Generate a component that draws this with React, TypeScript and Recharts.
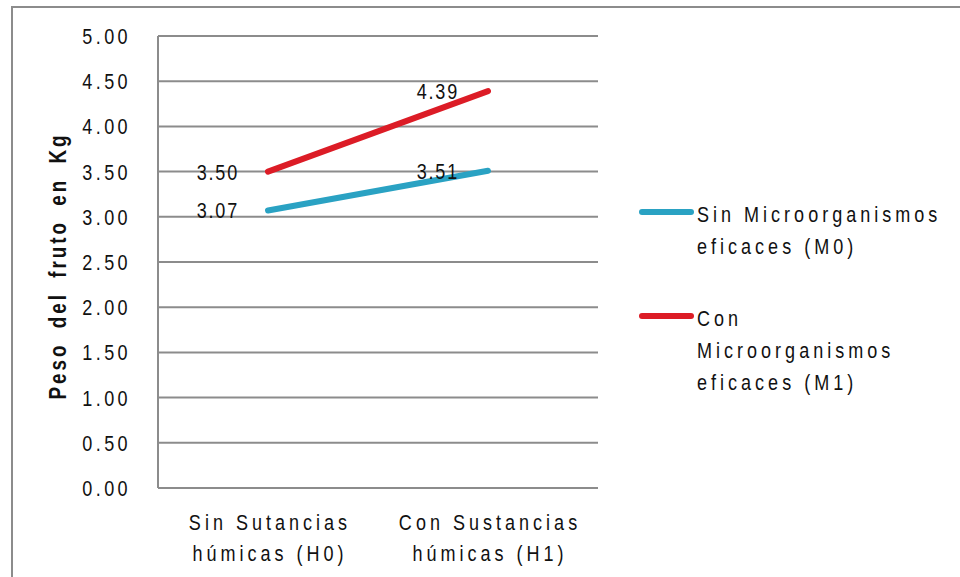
import { LineChart, Line, XAxis, YAxis, CartesianGrid, LabelList } from 'recharts';

const categories = ['H0', 'H1'];
const categoryLines = [
  ['Sin Sutancias', 'húmicas (H0)'],
  ['Con Sustancias', 'húmicas (H1)'],
];
const sinMicroorganismos = [3.07, 3.51];
const conMicroorganismos = [3.5, 4.39];
const yTicks = [0, 0.5, 1, 1.5, 2, 2.5, 3, 3.5, 4, 4.5, 5];

const seriesNames = [
  ['Sin Microorganismos', 'eficaces (M0)'],
  ['Con', 'Microorganismos', 'eficaces (M1)'],
];
const yTitle = 'Peso del fruto en Kg';

const FONT = "'Liberation Sans', Arial, sans-serif";
const GRID = '#8c8c8c';
const BLUE = '#2aa2c3';
const RED = '#dc1c26';
const NARROW = 0.82;

const data = categories.map((name, i) => ({
  name,
  m0: sinMicroorganismos[i],
  m1: conMicroorganismos[i],
}));

// Arial squeezed horizontally to get the narrow look of the labels
function NText(props: {
  x: number;
  y: number;
  anchor?: 'start' | 'middle' | 'end';
  size?: number;
  spacing?: number;
  words?: number;
  bold?: boolean;
  rotate?: number;
  children: string;
}) {
  const { x, y, anchor = 'start', size = 22, spacing = 3.5, words = 0, bold, rotate = 0, children } = props;
  return (
    <text
      transform={`translate(${x},${y}) rotate(${rotate}) scale(${NARROW},1)`}
      textAnchor={anchor}
      fontFamily={FONT}
      fontSize={size}
      fontWeight={bold ? 'bold' : 'normal'}
      letterSpacing={spacing / NARROW}
      style={{ wordSpacing: words / NARROW }}
      fill="#111"
    >
      {children}
    </text>
  );
}

function CategoryTick(props: { x?: number; y?: number; payload?: { index: number } }) {
  const { x = 0, y = 0, payload } = props;
  if (!payload) return null;
  const lines = categoryLines[payload.index] || [];
  return (
    <g>
      {lines.map((t, i) => (
        <NText key={t} x={x + 2} y={y + 34 + i * 31} anchor="middle" spacing={4}>
          {t}
        </NText>
      ))}
    </g>
  );
}

function ValueTick(props: { x?: number; y?: number; payload?: { value: number } }) {
  const { x = 0, y = 0, payload } = props;
  if (!payload) return null;
  return (
    <NText x={x} y={y + 8} anchor="end" spacing={3.4}>
      {payload.value.toFixed(2)}
    </NText>
  );
}

// value labels sit to the left of each point
function PointLabel(props: { x?: number; y?: number; value?: number }) {
  const { x = 0, y = 0, value } = props;
  if (value === undefined) return null;
  return (
    <NText x={x - 29} y={y + 8} anchor="end" spacing={1.8}>
      {Number(value).toFixed(2)}
    </NText>
  );
}

function SeriesLegend() {
  const colors = [BLUE, RED];
  const tops = [0, 104];
  return (
    <svg width={330} height={200} style={{ position: 'absolute', left: 630, top: 200, overflow: 'visible' }}>
      {seriesNames.map((lines, i) => (
        <g key={i}>
          <line
            x1={12}
            x2={61}
            y1={tops[i] + 12}
            y2={tops[i] + 12}
            stroke={colors[i]}
            strokeWidth={6}
            strokeLinecap="round"
          />
          {lines.map((t, j) => (
            <NText key={t} x={67} y={tops[i] + 22 + j * 32} spacing={4}>
              {t}
            </NText>
          ))}
        </g>
      ))}
    </svg>
  );
}

export default function App() {
  return (
    <div style={{ position: 'absolute', left: 0, top: 0, width: 960, height: 577, background: '#fff', overflow: 'hidden' }}>
      <div
        style={{
          position: 'absolute',
          left: 11,
          top: 6,
          width: 980,
          height: 600,
          borderLeft: `2px solid ${GRID}`,
          borderTop: `2px solid ${GRID}`,
        }}
      />
      <LineChart width={960} height={577} data={data} margin={{ top: 36, right: 362, bottom: 9, left: 0 }}>
        <CartesianGrid vertical={false} stroke={GRID} strokeWidth={2} />
        <XAxis
          dataKey="name"
          padding={{ left: 110, right: 110 }}
          axisLine={{ stroke: GRID, strokeWidth: 2 }}
          tickLine={false}
          tick={<CategoryTick />}
          height={80}
          interval={0}
        />
        <YAxis
          domain={[0, 5]}
          ticks={yTicks}
          width={158}
          axisLine={{ stroke: GRID, strokeWidth: 2 }}
          tickLine={false}
          tickSize={0}
          tickMargin={27}
          tick={<ValueTick />}
          label={() => (
            <NText x={66} y={266} anchor="middle" rotate={-90} bold size={23} spacing={3} words={6}>
              {yTitle}
            </NText>
          )}
        />
        <Line
          dataKey="m0"
          name="Sin Microorganismos eficaces (M0)"
          stroke={BLUE}
          strokeWidth={6}
          strokeLinecap="round"
          dot={false}
          isAnimationActive={false}
        >
          <LabelList dataKey="m0" content={<PointLabel />} />
        </Line>
        <Line
          dataKey="m1"
          name="Con Microorganismos eficaces (M1)"
          stroke={RED}
          strokeWidth={6}
          strokeLinecap="round"
          dot={false}
          isAnimationActive={false}
        >
          <LabelList dataKey="m1" content={<PointLabel />} />
        </Line>
      </LineChart>
      <SeriesLegend />
    </div>
  );
}
